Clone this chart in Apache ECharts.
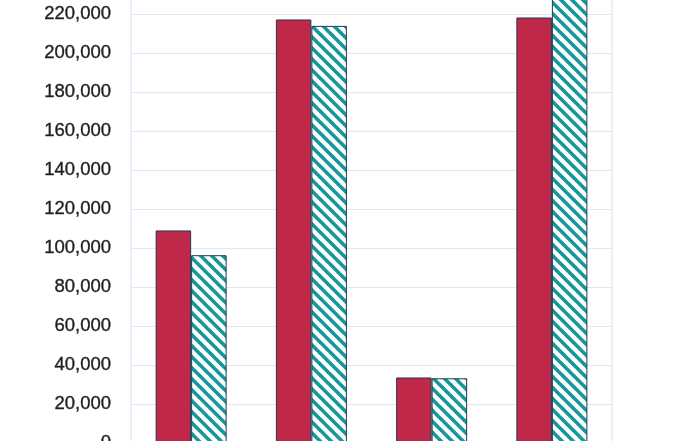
<!DOCTYPE html>
<html>
<head>
<meta charset="utf-8">
<script src="https://cdn.jsdelivr.net/npm/echarts@6/dist/echarts.min.js"></script>
<style>
html,body{margin:0;padding:0;background:#fff;}
#chart{width:700px;height:441px;}
</style>
</head>
<body>
<div id="chart"></div>
<script>
const categories = ['Group 1', 'Group 2', 'Group 3', 'Group 4'];
const seriesA = [109000, 217200, 33600, 218200];
const seriesB = [96300, 213900, 33200, 236000];
const yTicks = { min: 0, max: 240000, interval: 20000 };

function makeStripe() {
  const s = 11;
  const c = document.createElement('canvas');
  c.width = s; c.height = s;
  const ctx = c.getContext('2d');
  ctx.fillStyle = '#ffffff';
  ctx.fillRect(0, 0, s, s);
  ctx.strokeStyle = '#17979b';
  ctx.lineWidth = 3.6;
  ctx.lineCap = 'square';
  for (const off of [-s, 0, s]) {
    ctx.beginPath();
    ctx.moveTo(off, 0);
    ctx.lineTo(off + s, s);
    ctx.stroke();
  }
  return c;
}

const chart = echarts.init(document.getElementById('chart'), null, { renderer: 'canvas' });
chart.setOption({
  animation: false,
  backgroundColor: '#ffffff',
  grid: {
    left: 131, right: 88, top: -25, bottom: -2,
    outerBoundsMode: 'none',
    containLabel: false,
    show: true, borderColor: '#dae4f3', borderWidth: 1.2, backgroundColor: 'transparent'
  },
  xAxis: {
    type: 'category',
    data: categories,
    axisLine: { show: false },
    axisTick: { show: false },
    axisLabel: { show: false },
    splitLine: { show: false }
  },
  yAxis: {
    type: 'value',
    min: yTicks.min, max: yTicks.max, interval: yTicks.interval,
    axisLine: { show: false },
    axisTick: { show: false },
    axisLabel: {
      color: '#1f1f1f',
      fontFamily: 'Liberation Sans, Arial, sans-serif',
      fontSize: 18.5,
      textBorderColor: '#1f1f1f',
      textBorderWidth: 0.35,
      margin: 20,
      formatter: v => v.toLocaleString('en-US')
    },
    splitLine: { lineStyle: { color: '#dfe7f3', width: 1.2 } }
  },
  series: [
    {
      type: 'bar',
      data: seriesA,
      barWidth: 35.5,
      barGap: '0%',
      itemStyle: { color: '#c0284a', borderColor: '#1f3b4d', borderWidth: 1 }
    },
    {
      type: 'bar',
      data: seriesB,
      barWidth: 35.5,
      barGap: '0%',
      itemStyle: { color: { image: makeStripe(), repeat: 'repeat' }, borderColor: '#1f3b4d', borderWidth: 1 }
    }
  ]
});
</script>
</body>
</html>
